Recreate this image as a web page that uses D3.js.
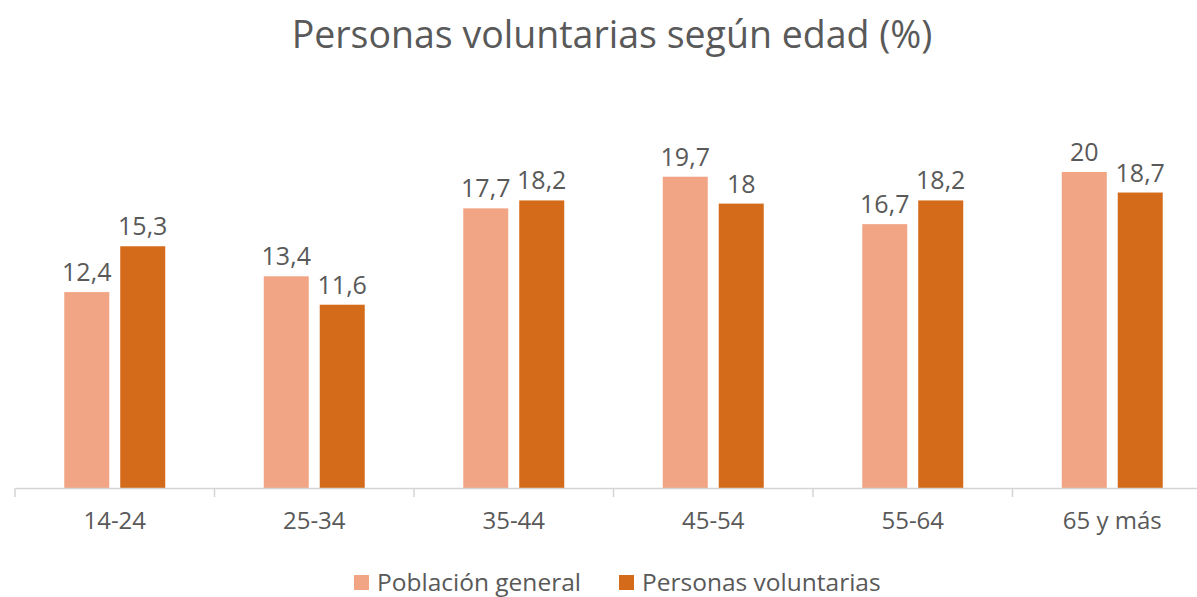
<!DOCTYPE html>
<html>
<head>
<meta charset="utf-8">
<script src="https://cdn.jsdelivr.net/npm/d3@7"></script>
<style>
  body { margin: 0; background: #fff; }
  text { font-family: "Open Sans", "Noto Sans", sans-serif; fill: #595959; }
</style>
</head>
<body>
<div id="chart"></div>
<script>
const categories = ["14-24", "25-34", "35-44", "45-54", "55-64", "65 y más"];
const seriesNames = ["Población general", "Personas voluntarias"];
const poblacion = [12.4, 13.4, 17.7, 19.7, 16.7, 20];
const voluntarias = [15.3, 11.6, 18.2, 18, 18.2, 18.7];
const colors = ["#F1A585", "#D46B1A"];

const width = 1197, height = 597;
const baseline = 488;

const svg = d3.select("#chart").append("svg")
    .attr("width", width)
    .attr("height", height);

// title
svg.append("text")
    .attr("x", 612)
    .attr("y", 48)
    .attr("text-anchor", "middle")
    .style("font-size", "37.5px")
    .text("Personas voluntarias según edad (%)");

const x0 = d3.scaleBand()
    .domain(categories)
    .range([15, 1212])
    .padding(0);

const x1 = d3.scaleBand()
    .domain(seriesNames)
    .range([0, x0.bandwidth()])
    .paddingInner(0.196)
    .paddingOuter(0.88);

const y = d3.scaleLinear()
    .domain([0, 25])
    .range([baseline, 93]);

const rows = categories.map((c, i) => ({
    cat: c,
    vals: [
        { s: seriesNames[0], v: poblacion[i], c: colors[0] },
        { s: seriesNames[1], v: voluntarias[i], c: colors[1] }
    ]
}));

const groups = svg.append("g")
    .selectAll("g")
    .data(rows)
    .enter()
    .append("g")
    .attr("transform", d => "translate(" + x0(d.cat) + ",0)");

groups.selectAll("rect")
    .data(d => d.vals)
    .enter()
    .append("rect")
    .attr("x", d => x1(d.s))
    .attr("y", d => y(d.v))
    .attr("width", x1.bandwidth())
    .attr("height", d => baseline - y(d.v))
    .attr("fill", d => d.c);

const fmt = v => String(v).replace(".", ",");

groups.selectAll("text.lbl")
    .data(d => d.vals)
    .enter()
    .append("text")
    .attr("class", "lbl")
    .attr("x", d => x1(d.s) + x1.bandwidth() / 2)
    .attr("y", d => y(d.v) - 11)
    .attr("text-anchor", "middle")
    .style("font-size", "25px")
    .text(d => fmt(d.v));

// x axis
const axis = svg.append("g")
    .attr("transform", "translate(0," + baseline + ")")
    .call(d3.axisBottom(x0).tickSize(0).tickPadding(24));
axis.select(".domain").attr("stroke", "#D4D4D4").attr("stroke-width", 1.5);
axis.selectAll("text")
    .style("font-size", "24px")
    .attr("fill", "#595959");

// tick marks between categories
const bounds = categories.map(c => x0(c)).concat([x0.range()[1]]);
svg.append("g")
    .selectAll("line")
    .data(bounds)
    .enter()
    .append("line")
    .attr("x1", d => d).attr("x2", d => d)
    .attr("y1", baseline).attr("y2", baseline + 9)
    .attr("stroke", "#D4D4D4")
    .attr("stroke-width", 1.5);

// legend
const legend = svg.append("g");
const legendX = [354, 619];
seriesNames.forEach((s, i) => {
    legend.append("rect")
        .attr("x", legendX[i])
        .attr("y", 575)
        .attr("width", 15)
        .attr("height", 15)
        .attr("fill", colors[i]);
    legend.append("text")
        .attr("x", legendX[i] + 23)
        .attr("y", 591)
        .style("font-size", "24.5px")
        .text(s);
});
</script>
</body>
</html>
